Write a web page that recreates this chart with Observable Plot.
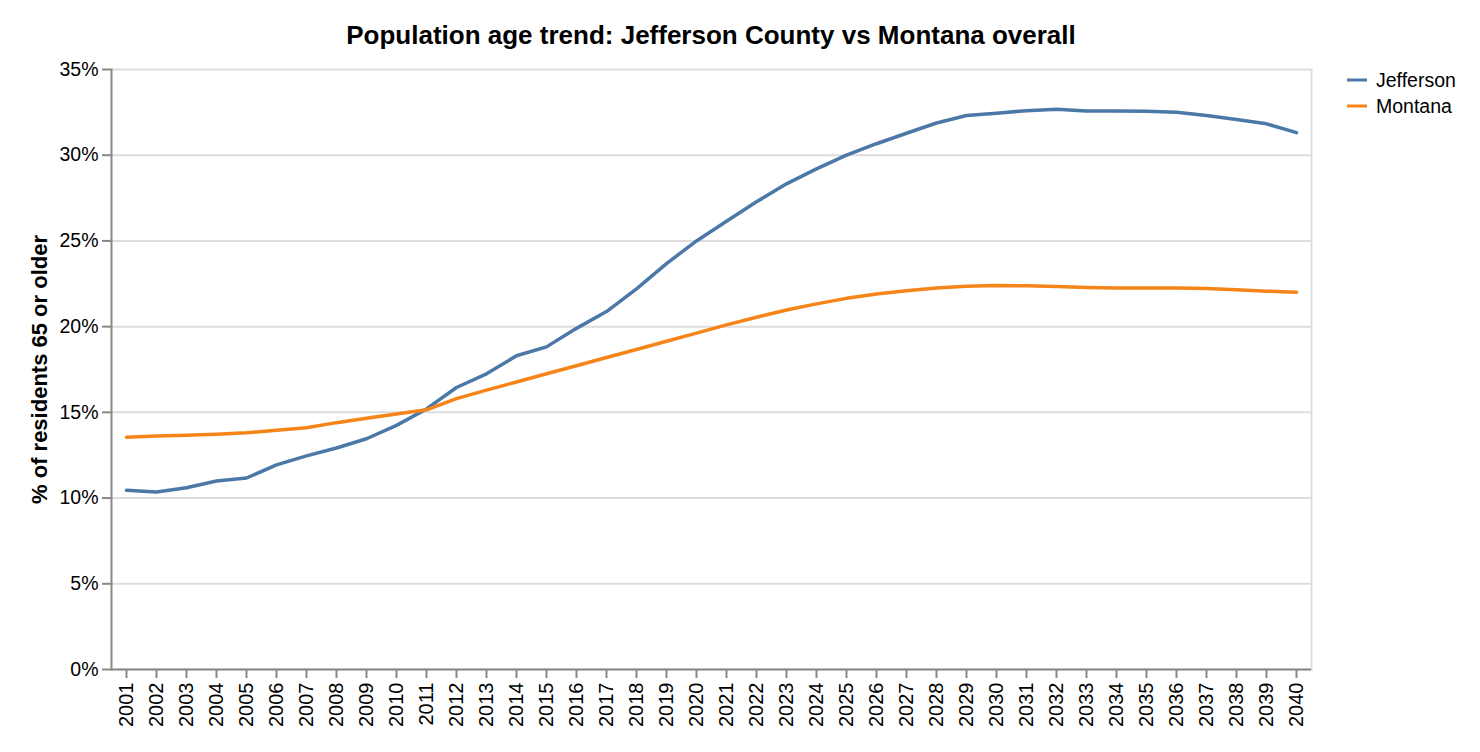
<!DOCTYPE html>
<html>
<head>
<meta charset="utf-8">
<script src="https://cdn.jsdelivr.net/npm/d3@7"></script>
<script src="https://cdn.jsdelivr.net/npm/@observablehq/plot@0.6"></script>
<style>
  html, body { margin: 0; padding: 0; background: #fff; }
  #wrap { position: relative; width: 1480px; font-family: "Liberation Sans", Arial, Helvetica, sans-serif; }
  #title { height: 50px; box-sizing: border-box; padding-top: 21px; line-height: 29px; width: 1422px; text-align: center; font-weight: bold; font-size: 26px; color: #000; }
  #legend { position: absolute; left: 1346px; top: 67px; font-size: 19.5px; color: #000; }
  #legend .item { display: flex; align-items: center; height: 26px; }
  #legend svg { margin-right: 8px; }
  g[aria-label="y-axis label"] text { font-weight: bold; font-size: 22px; }
  g[aria-label="x-axis tick label"] text { font-size: 20px; }
</style>
</head>
<body>
<div id="wrap">
  <div id="title">Population age trend: Jefferson County vs Montana overall</div>
  <div id="chart"></div>
  <div id="legend"></div>
</div>
<script>
const years = [2001,2002,2003,2004,2005,2006,2007,2008,2009,2010,2011,2012,2013,2014,2015,2016,2017,2018,2019,2020,2021,2022,2023,2024,2025,2026,2027,2028,2029,2030,2031,2032,2033,2034,2035,2036,2037,2038,2039,2040];
const jefferson = [10.45,10.35,10.6,11.0,11.17,11.94,12.46,12.92,13.46,14.24,15.2,16.45,17.25,18.3,18.82,19.9,20.88,22.2,23.68,25.0,26.15,27.28,28.33,29.2,30.0,30.67,31.28,31.88,32.32,32.45,32.6,32.68,32.58,32.58,32.56,32.5,32.32,32.08,31.83,31.32];
const montana = [13.55,13.62,13.67,13.73,13.81,13.95,14.1,14.4,14.65,14.9,15.15,15.8,16.3,16.77,17.25,17.72,18.2,18.67,19.15,19.62,20.1,20.55,20.97,21.33,21.65,21.9,22.1,22.25,22.35,22.4,22.38,22.34,22.29,22.25,22.26,22.26,22.22,22.15,22.07,22.01];
const seriesNames = ["Jefferson", "Montana"];
const seriesColors = ["#4c78a8", "#f58518"];
const yTicks = [0,5,10,15,20,25,30,35];

const rows = [];
years.forEach((yr, i) => {
  rows.push({year: String(yr), value: jefferson[i], series: seriesNames[0]});
  rows.push({year: String(yr), value: montana[i], series: seriesNames[1]});
});

const chart = Plot.plot({
  width: 1480,
  height: 702,
  marginTop: 19,
  marginBottom: 83,
  marginLeft: 111,
  marginRight: 169,
  style: {fontFamily: '"Liberation Sans", Arial, Helvetica, sans-serif', fontSize: "19.5px", color: "#000", background: "#fff"},
  x: {type: "point", domain: years.map(String), padding: 0.5},
  y: {domain: [0, 35]},
  color: {domain: seriesNames, range: seriesColors},
  marks: [
    Plot.gridY(yTicks, {stroke: "#ddd", strokeOpacity: 1, strokeWidth: 2}),
    Plot.frame({anchor: "right", stroke: "#ddd", strokeWidth: 2}),
    Plot.frame({anchor: "left", stroke: "#888", strokeWidth: 2}),
    Plot.ruleY([0], {stroke: "#888", strokeWidth: 2}),
    Plot.axisY(yTicks, {tickFormat: d => d + "%", tickSize: 9, tickPadding: 4, stroke: "#888", strokeWidth: 2, label: "% of residents 65 or older", labelAnchor: "center", labelArrow: false, labelOffset: 80}),
    Plot.axisX({tickSize: 9, tickPadding: 4, tickRotate: -90, stroke: "#888", strokeWidth: 2, label: null}),
    Plot.lineY(rows, {x: "year", y: "value", z: "series", stroke: "series", strokeWidth: 3.5})
  ]
});
document.getElementById("chart").appendChild(chart);

const legend = document.getElementById("legend");
seriesNames.forEach((name, i) => {
  const item = document.createElement("div");
  item.className = "item";
  item.innerHTML = `<svg width="22" height="6"><line x1="1" x2="21" y1="3" y2="3" stroke="${seriesColors[i]}" stroke-width="3"/></svg><span>${name}</span>`;
  legend.appendChild(item);
});
</script>
</body>
</html>
